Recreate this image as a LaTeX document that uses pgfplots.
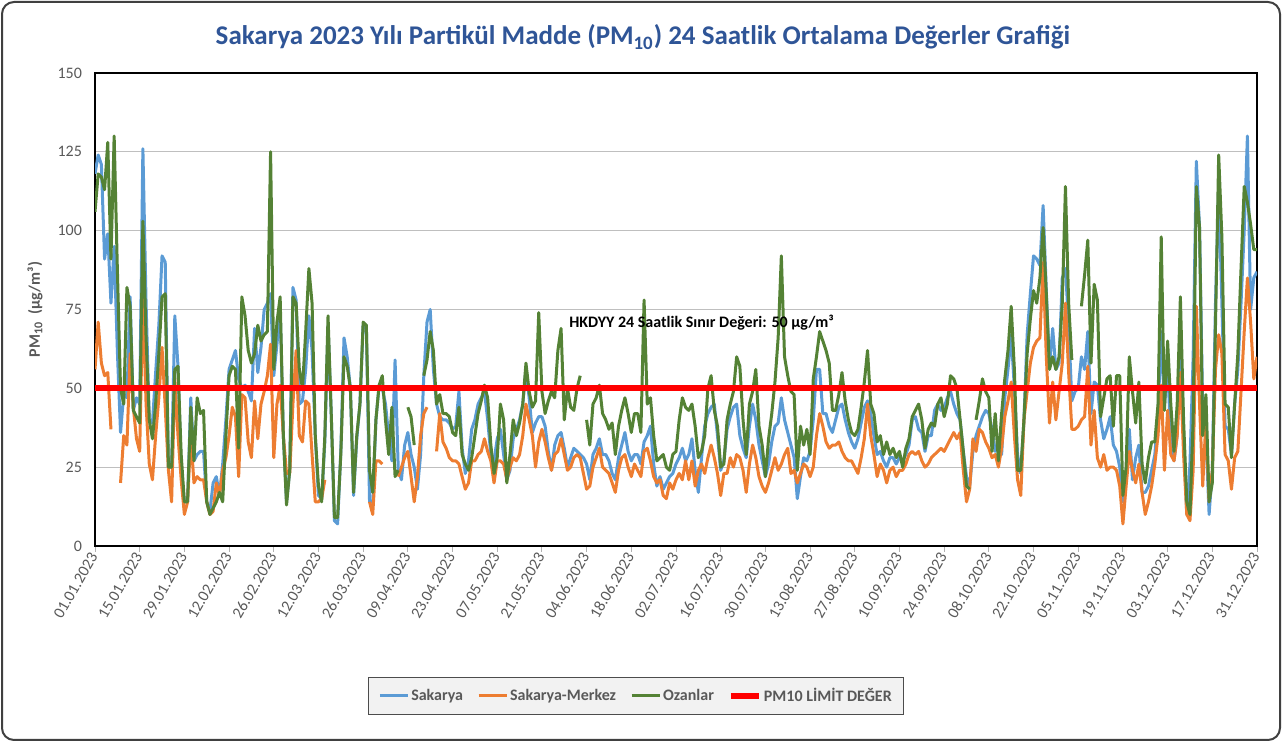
\documentclass[border=0pt]{standalone}
\usepackage{fontspec}
\setmainfont{Carlito}
\usepackage{pgfplots}
\usepackage{pgfplotstable}
\pgfplotsset{compat=1.18}
\definecolor{cS}{HTML}{5B9BD5}
\definecolor{cM}{HTML}{ED7D31}
\definecolor{cO}{HTML}{548235}
\definecolor{cT}{HTML}{2F5597}
\definecolor{cG}{HTML}{595959}

% Sakarya (blue), one value per day from 01.01.2023
\pgfplotstableread[row sep=\\]{
v\\
118\\124\\121\\91\\99\\77\\95\\62\\36\\48\\47\\79\\43\\47\\45\\126\\77\\40\\39\\55\\70\\92\\90\\25\\25\\73\\57\\24\\14\\14\\47\\27\\29\\30\\30\\14\\11\\20\\22\\16\\26\\40\\56\\59\\62\\
53\\50\\51\\49\\46\\69\\55\\63\\75\\77\\80\\54\\64\\75\\35\\14\\24\\82\\78\\45\\46\\56\\73\\62\\35\\16\\15\\33\\70\\42\\8\\7\\30\\66\\60\\50\\16\\34\\45\\70\\70\\14\\14\\40\\51\\
50\\45\\35\\27\\59\\24\\21\\32\\36\\29\\25\\18\\29\\54\\71\\75\\56\\45\\41\\40\\40\\39\\37\\38\\49\\31\\23\\27\\37\\40\\45\\47\\49\\40\\29\\27\\34\\37\\29\\21\\24\\34\\37\\40\\45\\56\\
47\\36\\39\\41\\41\\38\\30\\24\\32\\35\\36\\31\\25\\28\\31\\30\\29\\28\\26\\21\\29\\31\\34\\29\\29\\27\\23\\21\\28\\32\\36\\30\\27\\29\\29\\26\\33\\35\\38\\26\\19\\22\\18\\20\\22\\23\\
26\\28\\31\\27\\29\\34\\24\\17\\28\\38\\42\\44\\45\\35\\24\\27\\37\\41\\44\\45\\35\\31\\28\\38\\45\\40\\32\\27\\22\\26\\33\\38\\39\\47\\40\\36\\32\\28\\15\\22\\28\\27\\30\\40\\56\\56\\
42\\42\\38\\36\\40\\44\\45\\40\\36\\33\\31\\34\\39\\44\\46\\42\\35\\29\\30\\27\\25\\28\\28\\26\\28\\27\\29\\32\\40\\41\\37\\36\\30\\35\\35\\43\\45\\43\\44\\47\\49\\45\\42\\40\\
30\\22\\19\\30\\35\\38\\41\\43\\42\\37\\30\\32\\29\\47\\56\\67\\50\\29\\23\\40\\67\\80\\92\\91\\89\\108\\81\\57\\69\\56\\58\\85\\88\\70\\46\\49\\50\\60\\56\\68\\42\\52\\51\\40\\34\\37\\
41\\32\\30\\25\\14\\21\\37\\21\\28\\32\\17\\17\\19\\24\\29\\42\\68\\44\\58\\33\\27\\35\\66\\35\\10\\26\\60\\122\\101\\43\\35\\10\\24\\77\\114\\77\\38\\37\\29\\45\\56\\77\\100\\130\\75\\85\\87\\
}\tabS

% Sakarya-Merkez (orange)
\pgfplotstableread[row sep=\\]{
v\\
56\\71\\58\\54\\55\\37\\nan\\nan\\20\\35\\32\\61\\44\\34\\30\\79\\45\\26\\21\\35\\47\\63\\44\\24\\14\\53\\35\\21\\10\\14\\35\\20\\22\\21\\21\\14\\10\\11\\20\\16\\24\\28\\35\\44\\41\\
22\\48\\47\\33\\28\\46\\34\\45\\49\\54\\64\\28\\45\\51\\35\\23\\23\\45\\62\\35\\33\\46\\45\\29\\14\\14\\15\\21\\nan\\nan\\nan\\nan\\nan\\nan\\nan\\nan\\nan\\nan\\nan\\nan\\nan\\14\\10\\27\\27\\
26\\nan\\nan\\nan\\nan\\22\\25\\28\\30\\22\\14\\22\\35\\42\\44\\nan\\nan\\30\\42\\33\\31\\28\\27\\27\\26\\22\\18\\20\\27\\27\\29\\30\\34\\30\\27\\20\\27\\27\\26\\21\\25\\28\\27\\29\\35\\45\\
40\\35\\25\\33\\37\\33\\28\\24\\29\\30\\34\\29\\24\\25\\28\\29\\28\\23\\18\\19\\25\\28\\31\\25\\24\\23\\20\\17\\24\\28\\29\\25\\22\\26\\24\\22\\30\\31\\27\\22\\20\\21\\16\\15\\20\\18\\
21\\23\\21\\27\\21\\27\\19\\24\\26\\23\\28\\32\\28\\23\\16\\23\\23\\28\\25\\29\\28\\24\\17\\26\\32\\28\\22\\19\\17\\20\\24\\28\\24\\26\\29\\31\\23\\24\\20\\23\\26\\25\\22\\25\\35\\42\\
38\\33\\31\\32\\32\\33\\30\\28\\27\\27\\25\\23\\28\\34\\45\\35\\29\\22\\26\\24\\20\\24\\25\\22\\24\\24\\26\\29\\30\\29\\30\\27\\25\\26\\28\\29\\30\\31\\30\\32\\34\\36\\34\\36\\
24\\14\\18\\34\\30\\37\\36\\33\\31\\28\\29\\25\\31\\41\\46\\52\\35\\21\\16\\40\\49\\58\\63\\65\\66\\90\\60\\39\\52\\40\\49\\58\\77\\55\\37\\37\\38\\40\\41\\57\\32\\43\\28\\25\\29\\24\\
25\\25\\24\\19\\7\\19\\30\\24\\20\\26\\17\\10\\14\\19\\26\\35\\51\\24\\43\\29\\27\\35\\55\\29\\10\\8\\24\\76\\45\\19\\40\\14\\24\\56\\67\\61\\29\\27\\18\\28\\30\\49\\68\\85\\71\\53\\60\\
}\tabM

% Ozanlar (green)
\pgfplotstableread[row sep=\\]{
v\\
106\\118\\117\\113\\128\\91\\130\\88\\50\\45\\82\\76\\43\\41\\39\\103\\66\\40\\34\\45\\61\\79\\80\\25\\25\\56\\57\\29\\14\\14\\44\\27\\47\\42\\43\\14\\10\\12\\14\\17\\14\\35\\54\\57\\56\\
31\\79\\73\\62\\58\\61\\70\\65\\67\\68\\125\\56\\71\\79\\35\\13\\24\\79\\77\\56\\50\\68\\88\\77\\35\\19\\14\\35\\73\\42\\9\\9\\29\\60\\57\\50\\17\\35\\45\\71\\70\\24\\17\\40\\51\\
54\\40\\29\\44\\22\\24\\nan\\nan\\44\\41\\32\\nan\\nan\\54\\59\\68\\62\\45\\48\\42\\42\\41\\36\\35\\44\\29\\26\\24\\28\\35\\42\\46\\51\\47\\32\\23\\28\\45\\40\\20\\29\\40\\35\\39\\45\\58\\
49\\44\\46\\74\\49\\42\\46\\49\\47\\62\\69\\40\\50\\44\\43\\50\\54\\nan\\40\\32\\45\\47\\51\\42\\40\\37\\39\\29\\38\\43\\47\\42\\36\\42\\42\\36\\78\\45\\47\\35\\27\\28\\29\\25\\24\\29\\
30\\40\\47\\44\\43\\45\\38\\28\\30\\35\\50\\54\\43\\38\\25\\26\\40\\45\\49\\60\\57\\40\\29\\45\\49\\56\\38\\32\\22\\34\\42\\52\\66\\92\\60\\54\\49\\48\\24\\38\\32\\37\\29\\53\\60\\68\\
65\\62\\58\\43\\43\\48\\55\\46\\40\\36\\35\\37\\44\\52\\62\\45\\42\\33\\35\\29\\33\\29\\31\\28\\30\\25\\31\\34\\41\\43\\45\\40\\31\\37\\39\\38\\45\\47\\41\\45\\54\\53\\50\\40\\
30\\19\\18\\nan\\40\\46\\53\\49\\47\\30\\42\\27\\42\\53\\62\\76\\56\\24\\24\\40\\61\\72\\81\\77\\85\\101\\80\\56\\60\\56\\60\\77\\114\\77\\59\\nan\\nan\\76\\86\\97\\58\\83\\78\\41\\47\\53\\
54\\38\\54\\54\\16\\25\\60\\49\\39\\52\\26\\20\\28\\33\\33\\45\\98\\43\\65\\45\\30\\45\\79\\40\\14\\10\\40\\114\\101\\35\\48\\14\\20\\70\\124\\98\\45\\44\\28\\45\\61\\88\\114\\109\\102\\94\\94\\
}\tabO

\begin{document}
\begin{tikzpicture}
\useasboundingbox (0pt,0pt) rectangle (641pt,371pt);
\draw[draw=black!75, line width=1pt, rounded corners=6pt] (1pt,1pt) rectangle (640pt,370pt);
\node[font=\bfseries\fontsize{13.5}{16}\selectfont, text=cT] at (321.5pt,352.5pt)
  {Sakarya 2023 Yılı Partikül Madde (PM\textsubscript{10}) 24 Saatlik Ortalama Değerler Grafiği};
\begin{axis}[
  at={(47.5pt,98pt)}, anchor=south west,
  scale only axis, width=581pt, height=236.5pt,
  xmin=0, xmax=364, ymin=0, ymax=150,
  ytick={0,25,...,150},
  ymajorgrids, grid style={draw=black!25, line width=0.6pt},
  xtick={0,14,...,364},
  xticklabels={01.01.2023,15.01.2023,29.01.2023,12.02.2023,26.02.2023,12.03.2023,26.03.2023,09.04.2023,23.04.2023,07.05.2023,21.05.2023,04.06.2023,18.06.2023,02.07.2023,16.07.2023,30.07.2023,13.08.2023,27.08.2023,10.09.2023,24.09.2023,08.10.2023,22.10.2023,05.11.2023,19.11.2023,03.12.2023,17.12.2023,31.12.2023},
  x tick label style={rotate=60, anchor=east, font=\fontsize{8}{9}\selectfont, text=cG, inner sep=1pt},
  y tick label style={font=\fontsize{8}{9}\selectfont, text=cG},
  /pgf/number format/assume math mode=true,
  xtick pos=bottom, ytick pos=left,
  xtick style={draw=black!30, line width=0.5pt},
  ytick style={draw=none},
  major tick length=3pt,
  tick align=outside,
  axis line style={draw=black, line width=0.6pt},
  ylabel={\bfseries PM\textsubscript{10}\ \ (µg/m³)},
  ylabel style={font=\fontsize{8}{9}\selectfont, text=cG, at={(axis description cs:-0.0516,0.5)}, anchor=center, rotate=0},
  unbounded coords=jump,
  legend columns=4,
  legend style={at={(0.4656,-0.317)}, anchor=center, fill=black!5, draw=black!70, line width=0.6pt,
    font=\bfseries\fontsize{8}{9}\selectfont, text=cG, inner xsep=5pt, inner ysep=3pt,
    nodes={inner xsep=1pt},
    /tikz/every even column/.append style={column sep=6pt}},
  legend image code/.code={\draw[#1] (0pt,0pt) -- (14pt,0pt);},
]
\addplot[cS, line width=1.5pt, line join=round] table[x expr=\coordindex, y=v] {\tabS};
\addlegendentry{Sakarya}
\addplot[cM, line width=1.5pt, line join=round] table[x expr=\coordindex, y=v] {\tabM};
\addlegendentry{Sakarya-Merkez}
\addplot[cO, line width=1.5pt, line join=round] table[x expr=\coordindex, y=v] {\tabO};
\addlegendentry{Ozanlar}
\addplot[red, line width=3pt] coordinates {(0,50) (364,50)};
\addlegendentry{PM10 LİMİT DEĞER}
\node[font=\bfseries\fontsize{8}{9}\selectfont, text=black] at (axis cs:190,70.7) {HKDYY 24 Saatlik Sınır Değeri: 50 µg/m³};
\end{axis}
\end{tikzpicture}
\end{document}
